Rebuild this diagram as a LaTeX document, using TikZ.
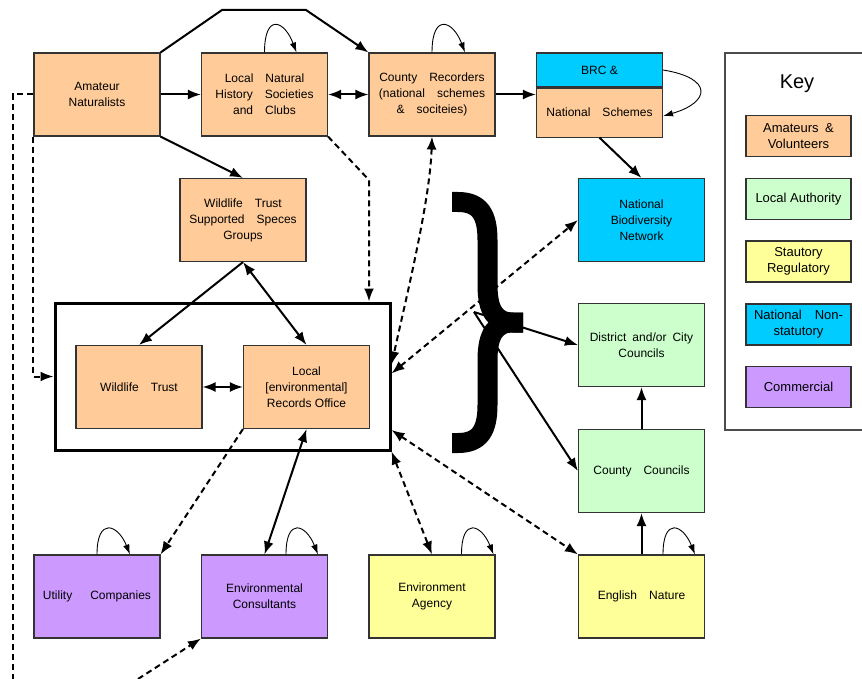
\documentclass[tikz,border=0pt]{standalone}
\usepackage{fontspec}
\setmainfont{Liberation Sans}
\usetikzlibrary{positioning,arrows.meta}
\definecolor{amcol}{HTML}{FFCC99}
\definecolor{lacol}{HTML}{CCFFCC}
\definecolor{stcol}{HTML}{FFFF99}
\definecolor{nacol}{HTML}{00CCFF}
\definecolor{cocol}{HTML}{CC99FF}
\tikzset{>={Latex[length=13pt,width=10pt]}}
\tikzset{
  orgbox/.style={draw=black!80, line width=1.1pt, minimum width=126pt, minimum height=83pt, inner sep=0pt, align=center, font=\fontsize{12}{16}\selectfont},
  amateur/.style={orgbox, fill=amcol},
  localauth/.style={orgbox, fill=lacol},
  statutory/.style={orgbox, fill=stcol},
  nonstat/.style={orgbox, fill=nacol},
  commercial/.style={orgbox, fill=cocol},
  keyitem/.style={draw=black!80, line width=1.1pt, minimum width=105pt, minimum height=41pt, inner sep=0pt, align=center, font=\fontsize{13}{16}\selectfont},
  link/.style={line width=2pt},
  dlink/.style={line width=2pt, dash pattern=on 6pt off 4pt},
  selfarc/.style={line width=0.9pt, -{Latex[length=10pt,width=6.5pt]}},
  bracestroke/.style={line width=20pt},
}

\begin{document}
\begin{tikzpicture}[x=1pt,y=1pt]
  \useasboundingbox (0,0) rectangle (862,-679);
  \node[amateur] (n0) at (97,-94.5) {Amateur\\Naturalists};
  \node[amateur, right of=n0, node distance=167.5pt] (n1) {Local\quad Natural\\History\quad Societies\\and\quad Clubs};
  \node[amateur, right of=n1, node distance=167.5pt] (n2) {County\quad Recorders\\(national\quad schemes\\\&\quad sociteies)};
  \node[nonstat, minimum height=34pt] (n3) at (599.5,-70) {BRC \&};
  \node[amateur, minimum height=49pt, below=0pt of n3] (n4) {National\quad Schemes};
  \node[amateur] (n5) at (243,-220) {Wildlife\quad Trust\\Supported\quad Speces\\Groups};
  \node[nonstat] (n6) at (641.5,-220) {National\\Biodiversity\\Network};
  \node[draw, line width=3pt, minimum width=335pt, minimum height=147pt] (nf) at (222.5,-376.5) {};
  \node[amateur] (n7) at (139,-387) {Wildlife\quad Trust};
  \node[amateur, right of=n7, node distance=167.5pt] (n8) {Local\\{}[environmental]\\Records Office};
  \node[localauth, below of=n6, node distance=125pt] (n9) {District\enspace and/or\enspace City\\Councils};
  \node[localauth, below of=n9, node distance=126pt] (n10) {County\quad Councils};
  \node[commercial, below of=n0, node distance=502pt] (n11) {Utility\quad\enspace Companies};
  \node[commercial, right of=n11, node distance=167.5pt] (n12) {Environmental\\Consultants};
  \node[statutory, right of=n12, node distance=167.5pt] (n13) {Environment\\Agency};
  \node[statutory, below of=n10, node distance=125.5pt] (n14) {English\quad Nature};

  \draw[draw=black!70, line width=1.1pt] (725,-53) rectangle (880,-430);
  \node[font=\fontsize{20}{24}\selectfont] (nk) at (797,-84) {Key};
  \node[keyitem, fill=amcol] (k1) at (798.5,-136) {Amateurs\enspace\&\\Volunteers};
  \node[keyitem, fill=lacol] (k2) at (798.5,-199) {Local Authority};
  \node[keyitem, fill=stcol] (k3) at (798.5,-261.5) {Stautory\\Regulatory};
  \node[keyitem, fill=nacol] (k4) at (798.5,-324.5) {National\quad Non-\\statutory};
  \node[keyitem, fill=cocol] (k5) at (798.5,-387) {Commercial};

  \coordinate (aux1) at (222,-10);
  \coordinate (aux2) at (306,-10);
  \coordinate (aux3) at (369,-180);
  \coordinate (aux4) at (13,-94.5);
  \coordinate (aux5) at (13,-679);
  \coordinate (aux6) at (138,-679);
  \coordinate (aux7) at (474,-312);

  \draw[bracestroke] (452,-202) -- (458,-202) .. controls (480,-202) and (487.5,-215) .. (487.5,-240) -- (487.5,-285) .. controls (487.5,-310) and (495,-322.5) .. (513,-322.5) -- (523,-322.5);
  \draw[bracestroke] (452,-443) -- (458,-443) .. controls (480,-443) and (487.5,-430) .. (487.5,-405) -- (487.5,-360) .. controls (487.5,-335) and (495,-322.5) .. (513,-322.5) -- (523,-322.5);

  \draw[link,->] (n0) -- (n1);
  \draw[link,->] (n0.north east) -- (aux1) -- (aux2) -- (n2.north west);
  \draw[link,<->] (n1) -- (n2);
  \draw[link,->] (n2.east) -- (n2.east -| n4.west);
  \draw[link,->] (n4.south) -- (n6.north);
  \draw[link,->] (n0.south east) -- (n5.north);
  \draw[link,->] (n5.south) -- (n7.north);
  \draw[link,<->] (n5.south) -- (n8.north);
  \draw[link,<->] (n7) -- (n8);
  \draw[link,<->] (n8.south) -- (n12.north);
  \draw[link,->] (n10) -- (n9);
  \draw[link,->] (n14) -- (n10);
  \draw[link,->] (aux7) -- (n9.west);
  \draw[link,->] (aux7) -- (n10.west);

  \draw[dlink] (n0.west) -- (aux4) -- (aux5);
  \draw[dlink,->] (n0.south west) |- (nf.west);
  \draw[dlink,->] (n1.south east) -- (aux3) -- (aux3 |- nf.north);
  \draw[dlink,<->] (n2.south) .. controls +(-2,-64) and +(15,68) .. ([yshift=12pt]nf.east);
  \draw[dlink,<->] ([yshift=3pt]nf.east) -- (n6.west);
  \draw[dlink,->] (n8.south west) -- (n11.north east);
  \draw[dlink,<->] (nf.south east) -- (n13.north);
  \draw[dlink,<->] ([yshift=-53.5pt]nf.east) -- (n14.north west);
  \draw[dlink,->] (aux6) -- (n12.south west);

  \draw[selfarc] (n1.north) .. controls +(0,40) and +(-12,32) .. ([xshift=32pt]n1.north);
  \draw[selfarc] (n2.north) .. controls +(0,40) and +(-12,32) .. ([xshift=33pt]n2.north);
  \draw[selfarc] (n3.east) .. controls +(50,-8) and +(48,14) .. ([yshift=-3.5pt]n4.east);
  \draw[selfarc] (n11.north) .. controls +(0,38) and +(-12,30) .. ([xshift=33pt]n11.north);
  \draw[selfarc] ([xshift=21.5pt]n12.north) .. controls +(0,38) and +(-12,30) .. ([xshift=53.5pt]n12.north);
  \draw[selfarc] ([xshift=29.5pt]n13.north) .. controls +(0,38) and +(-12,30) .. ([xshift=61.5pt]n13.north);
  \draw[selfarc] ([xshift=21.5pt]n14.north) .. controls +(0,38) and +(-12,30) .. ([xshift=53.5pt]n14.north);
\end{tikzpicture}
\end{document}
